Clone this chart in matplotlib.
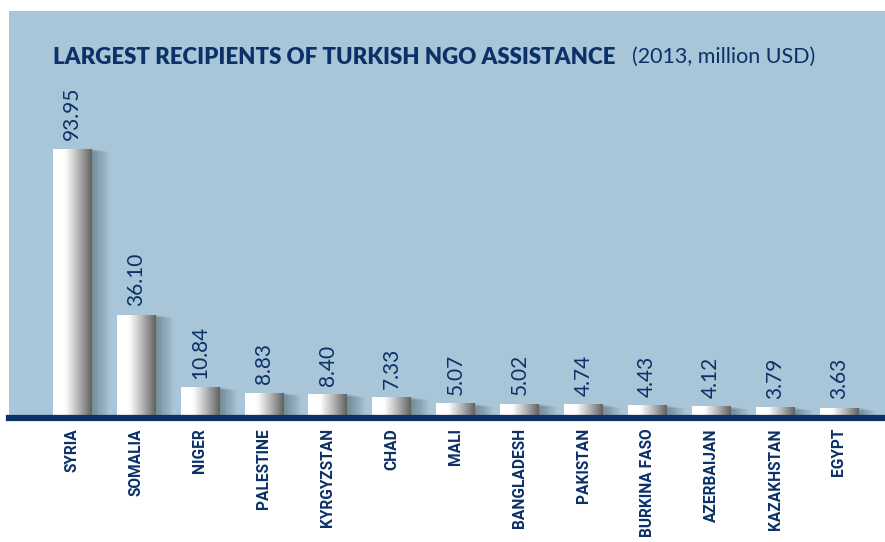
import numpy as np
import matplotlib
matplotlib.use("Agg")
import matplotlib.pyplot as plt
from matplotlib.patches import Rectangle
import matplotlib.transforms as mtransforms

countries = ["SYRIA", "SOMALIA", "NIGER", "PALESTINE", "KYRGYZSTAN", "CHAD", "MALI",
             "BANGLADESH", "PAKISTAN", "BURKINA FASO", "AZERBAIJAN", "KAZAKHSTAN", "EGYPT"]
values = [93.95, 36.10, 10.84, 8.83, 8.40, 7.33, 5.07, 5.02, 4.74, 4.43, 4.12, 3.79, 3.63]
value_labels = ["93.95", "36.10", "10.84", "8.83", "8.40", "7.33", "5.07",
                "5.02", "4.74", "4.43", "4.12", "3.79", "3.63"]

NAVY = "#0b3168"
BLUE_BG = "#a8c6d8"

W, H = 885, 542
fig = plt.figure(figsize=(W / 100, H / 100), dpi=100)
fig.patch.set_facecolor("white")

# axes covers the blue panel, bottom edge = baseline
ax = fig.add_axes([9 / W, 124 / H, 876 / W, 407 / H])
ax.set_facecolor(BLUE_BG)
for s in ax.spines.values():
    s.set_visible(False)
ax.set_xticks([])
ax.set_yticks([])

bw = 0.6
x = np.arange(len(values))

# horizontal gradient for the cylinder look
t = np.linspace(0, 1, 200)
shade = 1 - 0.62 * np.clip((t - 0.3) / 0.7, 0, 1) ** 1.1
grad = np.stack([shade] * 3, axis=-1)[None, :, :]

for i, v in enumerate(values):
    x0 = x[i] - bw / 2
    # soft shadow
    for j in range(10):
        ax.add_patch(Rectangle((x0 + 0.03 + j * 0.01, -1), bw + j * 0.018, v + 1 - j * 0.12,
                               facecolor="black", alpha=0.03, lw=0, zorder=1))
    bar = ax.bar(x[i], v, width=bw, color="white", lw=0, zorder=2)[0]
    im = ax.imshow(grad, extent=[x0, x0 + bw, 0, v], aspect="auto", zorder=3,
                   interpolation="bilinear")
    im.set_clip_path(bar)
    ax.annotate(value_labels[i], (x[i], v), xytext=(0, 6), textcoords="offset points",
                rotation=90, ha="center", va="bottom", color=NAVY, fontsize=15,
                family=["Lato", "DejaVu Sans"], zorder=5)

ax.set_xlim(-0.986, 12.72)
ax.set_ylim(0, 142)

# baseline
ax.axhline(0, color=NAVY, lw=4.5, zorder=6, clip_on=False)

trans = mtransforms.blended_transform_factory(ax.transData, ax.transAxes)
for i, c in enumerate(countries):
    ax.text(x[i], -10 / 407, c, transform=trans, rotation=90, ha="center", va="top",
            color=NAVY, fontsize=11.2, fontweight="bold",
            family=["Roboto", "DejaVu Sans"])

fig.text(53 / W, 1 - 58 / H, "LARGEST RECIPIENTS OF TURKISH NGO ASSISTANCE", ha="left",
         va="center", color=NAVY, fontsize=16, fontweight="heavy", family=["Lato", "DejaVu Sans"])
fig.text(632 / W, 1 - 57 / H, "(2013, million USD)", ha="left", va="center", color=NAVY,
         fontsize=15.5, family=["Lato", "DejaVu Sans"])

fig.savefig("out.png", dpi=100)
